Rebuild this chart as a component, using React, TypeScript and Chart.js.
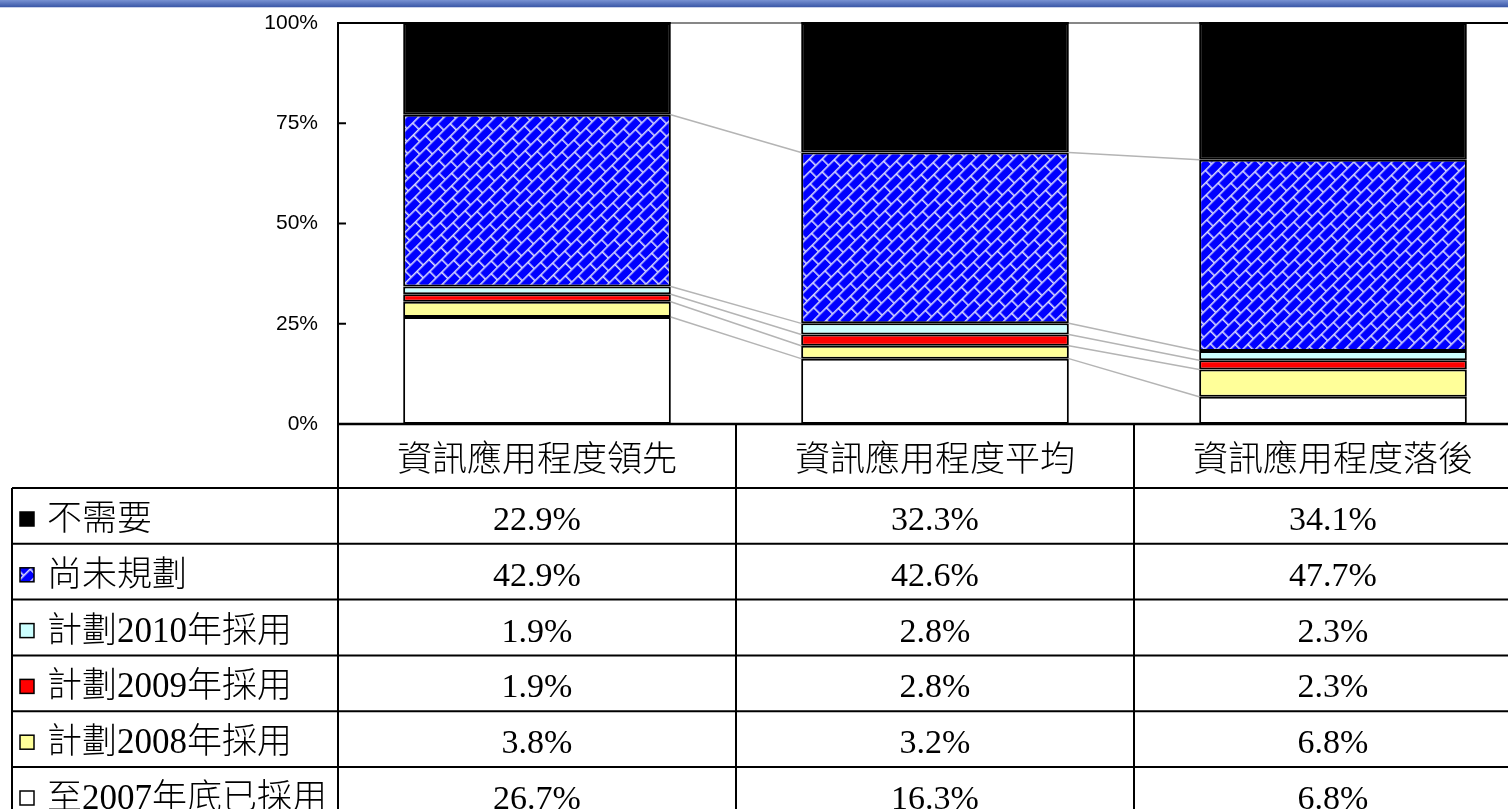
import React, { useEffect, useRef } from "react";
import { Chart, registerables } from "chart.js";

Chart.register(...registerables);

const categories = ["資訊應用程度領先", "資訊應用程度平均", "資訊應用程度落後"];
const seriesNames = ["至2007年底已採用", "計劃2008年採用", "計劃2009年採用", "計劃2010年採用", "尚未規劃", "不需要"];
const adopted2007 = [26.7, 16.3, 6.8];
const plan2008 = [3.8, 3.2, 6.8];
const plan2009 = [1.9, 2.8, 2.3];
const plan2010 = [1.9, 2.8, 2.3];
const notPlanned = [42.9, 42.6, 47.7];
const notNeeded = [22.9, 32.3, 34.1];
const yTicks = [0, 25, 50, 75, 100];

const CW = 1540;
const CH = 830;

function makePattern(): CanvasPattern | string {
  const L = 17;
  const T = 9;
  const c = document.createElement("canvas");
  c.width = L;
  c.height = T * 2;
  const g = c.getContext("2d");
  if (!g) return "#0000ff";
  g.fillStyle = "#0000ff";
  g.fillRect(0, 0, L, T * 2);
  g.fillStyle = "#d6d6ff";
  g.fillRect(0, 0, L, 1.6);
  g.fillRect(0, T, L, 1.6);
  g.fillRect(0, 0, 1.6, T);
  g.fillRect(Math.round(L / 2), T, 1.6, T);
  const tmp = document.createElement("canvas").getContext("2d");
  if (!tmp) return "#0000ff";
  const p = tmp.createPattern(c, "repeat");
  if (!p) return "#0000ff";
  try {
    p.setTransform(new DOMMatrix().rotate(-45));
  } catch (e) {}
  return p;
}

export default function App() {
  const ref = useRef<HTMLCanvasElement | null>(null);

  useEffect(() => {
    if (!ref.current) return;
    const pattern = makePattern();
    const raw = [adopted2007, plan2008, plan2009, plan2010, notPlanned, notNeeded];
    const colors: any[] = ["#ffffff", "#ffff99", "#ff0000", "#ccffff", pattern, "#000000"];
    const totals = categories.map((_, i) => raw.reduce((s, arr) => s + arr[i], 0));
    const datasets = raw.map((arr, d) => ({
      label: seriesNames[d],
      data: arr.map((v, i) => (v / totals[i]) * 100),
      backgroundColor: colors[d],
      borderColor: "#000000",
      borderWidth: 2,
      borderSkipped: false as any,
      categoryPercentage: 1,
      barPercentage: 0.6725,
    }));

    const deco = {
      id: "deco",
      beforeDraw(chart: any) {
        const ctx = chart.ctx as CanvasRenderingContext2D;
        ctx.save();
        ctx.fillStyle = "#ffffff";
        ctx.fillRect(0, 0, CW, CH);
        const g = ctx.createLinearGradient(0, 0, 0, 7);
        g.addColorStop(0, "#7892d2");
        g.addColorStop(1, "#3a57a7");
        ctx.fillStyle = g;
        ctx.fillRect(0, 0, CW, 7);
        ctx.fillStyle = "#c8d1e8";
        ctx.fillRect(0, 7, CW, 1);
        ctx.restore();
      },
      afterDatasetsDraw(chart: any) {
        const ctx = chart.ctx as CanvasRenderingContext2D;
        const ca = chart.chartArea;
        const y = chart.scales.y;
        const line = (x1: number, y1: number, x2: number, y2: number) => {
          ctx.beginPath();
          ctx.moveTo(x1, y1);
          ctx.lineTo(x2, y2);
          ctx.stroke();
        };
        ctx.save();
        // plot top border
        ctx.strokeStyle = "#000";
        ctx.lineWidth = 2;
        line(ca.left, ca.top, ca.right, ca.top);
        // series lines
        ctx.strokeStyle = "#b4b4b4";
        ctx.lineWidth = 1.5;
        chart.data.datasets.forEach((_: any, d: number) => {
          const meta = chart.getDatasetMeta(d);
          for (let i = 0; i < meta.data.length - 1; i++) {
            const a = meta.data[i];
            const b = meta.data[i + 1];
            line(a.x + a.width / 2, a.y, b.x - b.width / 2, b.y);
          }
        });
        // y axis line and inward ticks
        ctx.strokeStyle = "#000";
        ctx.lineWidth = 2;
        line(ca.left, ca.top - 1, ca.left, ca.bottom);
        yTicks.forEach((t) => {
          const py = y.getPixelForValue(t);
          line(ca.left, py, ca.left + 8, py);
        });

        // data table
        const colW = (ca.right - ca.left) / categories.length;
        const headerTop = ca.bottom;
        const headerBottom = ca.bottom + 64;
        const rowH = 55.8;
        const tableLeft = 12;
        const nRows = 6;
        ctx.lineWidth = 2.5;
        line(ca.left, headerTop, CW, headerTop);
        ctx.lineWidth = 2;
        for (let r = 0; r <= nRows; r++) {
          const ry = headerBottom + r * rowH;
          line(tableLeft, ry, CW, ry);
        }
        line(tableLeft, headerBottom, tableLeft, CH);
        for (let c = 0; c <= categories.length; c++) {
          const cx = ca.left + c * colW;
          line(cx, headerTop, cx, CH);
        }
        ctx.fillStyle = "#000";
        ctx.textAlign = "center";
        ctx.textBaseline = "alphabetic";
        ctx.font = '300 35px "Noto Sans CJK TC", "Liberation Serif"';
        categories.forEach((cat, i) => {
          ctx.fillText(cat, ca.left + (i + 0.5) * colW, headerTop + 47);
        });
        // rows: top to bottom is reverse stack order
        for (let r = 0; r < nRows; r++) {
          const d = nRows - 1 - r;
          const top = headerBottom + r * rowH;
          // key box
          ctx.fillStyle = colors[d];
          ctx.fillRect(20, top + 24, 14, 14);
          ctx.strokeStyle = "#000";
          ctx.lineWidth = 1.5;
          ctx.strokeRect(20, top + 24, 14, 14);
          ctx.fillStyle = "#000";
          ctx.textAlign = "left";
          ctx.font = '300 35px "Liberation Serif", "Noto Sans CJK TC"';
          ctx.fillText(seriesNames[d], 47, top + 42);
          ctx.textAlign = "center";
          ctx.font = '34px "Liberation Serif", "Times New Roman", serif';
          raw[d].forEach((v, i) => {
            ctx.fillText(v.toFixed(1) + "%", ca.left + (i + 0.5) * colW, top + 42);
          });
        }
        ctx.restore();
      },
    };

    const chart = new Chart(ref.current, {
      type: "bar",
      data: { labels: categories, datasets: datasets as any },
      options: {
        responsive: false,
        animation: false,
        devicePixelRatio: 1,
        layout: { padding: { left: 0, top: 23, right: CW - 1532, bottom: CH - 424 } },
        plugins: { legend: { display: false }, tooltip: { enabled: false } },
        scales: {
          x: { display: false, stacked: true, offset: true },
          y: {
            stacked: true,
            min: 0,
            max: 100,
            afterFit: (s: any) => {
              s.width = 338;
            },
            afterBuildTicks: (s: any) => {
              s.ticks = yTicks.map((v) => ({ value: v }));
            },
            grid: { display: false, drawTicks: true, tickLength: 20 },
            border: { display: false },
            ticks: {
              padding: 0,
              color: "#000",
              font: { family: '"Liberation Sans", Arial, sans-serif', size: 21 },
              callback: (v: any) => v + "%",
            },
          },
        },
      },
      plugins: [deco],
    });
    return () => chart.destroy();
  }, []);

  return (
    <div style={{ position: "fixed", left: 0, top: 0, width: 1508, height: 809, overflow: "hidden", background: "#fff" }}>
      <canvas ref={ref} width={CW} height={CH} style={{ display: "block", width: CW, height: CH }} />
    </div>
  );
}
